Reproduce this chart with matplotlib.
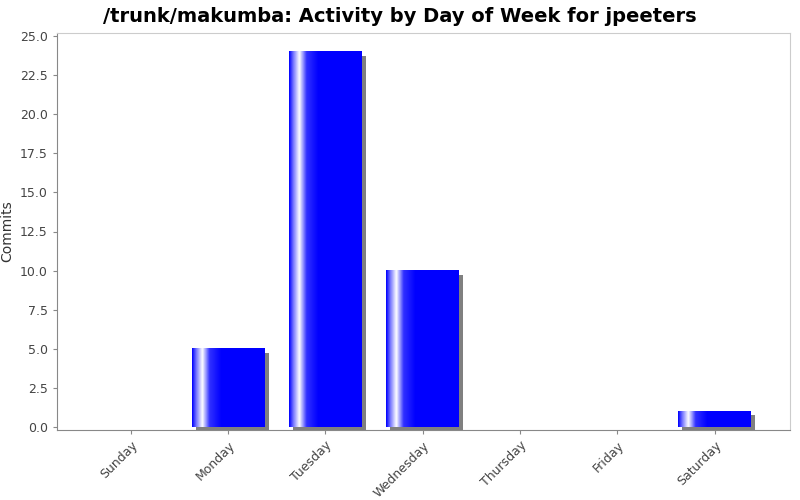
import numpy as np
import matplotlib
matplotlib.use("Agg")
import matplotlib.pyplot as plt
from matplotlib.transforms import offset_copy
from matplotlib.colors import LinearSegmentedColormap

days = ['Sunday', 'Monday', 'Tuesday', 'Wednesday', 'Thursday', 'Friday', 'Saturday']
commits = [0, 5, 24, 10, 0, 0, 1]

fig = plt.figure(figsize=(8, 5), dpi=100)
ax = fig.add_axes([0.071, 0.14, 0.916, 0.794])
ax.set_xlim(-0.76, 6.77)
ax.set_ylim(-0.19, 25.19)

width = 0.75
shadow_tf = offset_copy(ax.transData, fig=fig, x=4, y=-4, units='dots')
grad = LinearSegmentedColormap.from_list(
    'bar', [(0, '#0000ff'), (0.05, '#6a6aff'), (0.14, '#ffffff'), (0.24, '#3030ff'), (0.4, '#0000ff'), (1, '#0000ff')])
strip = np.linspace(0, 1, 200).reshape(1, -1)

for i, v in enumerate(commits):
    if v <= 0:
        continue
    x0 = i - width / 2
    ax.add_patch(plt.Rectangle((x0, 0), width, v, facecolor='#808080',
                               edgecolor='none', transform=shadow_tf, zorder=1))
    ax.imshow(strip, cmap=grad, aspect='auto', extent=(x0, x0 + width, 0, v),
              zorder=2, interpolation='bilinear')

ax.set_xlim(-0.76, 6.77)
ax.set_ylim(-0.19, 25.19)
ax.set_xticks(range(len(days)))
ax.set_xticklabels(days, rotation=45, ha='right', rotation_mode='anchor',
                   fontsize=9, color='#444444')
yt = np.arange(0, 25.01, 2.5)
ax.set_yticks(yt)
ax.set_yticklabels([f'{t:.1f}' for t in yt], fontsize=9, color='#444444')
ax.tick_params(colors='#888888', length=3)
for t in ax.get_xticklabels() + ax.get_yticklabels():
    t.set_color('#444444')
for s in ['top', 'right']:
    ax.spines[s].set_color('#cccccc')
for s in ['bottom', 'left']:
    ax.spines[s].set_color('#888888')
ax.set_ylabel('Commits', fontsize=10, color='#333333')
fig.suptitle('/trunk/makumba: Activity by Day of Week for jpeeters',
             fontsize=14, fontweight='bold', y=0.985)

fig.savefig('out.png', dpi=100)
